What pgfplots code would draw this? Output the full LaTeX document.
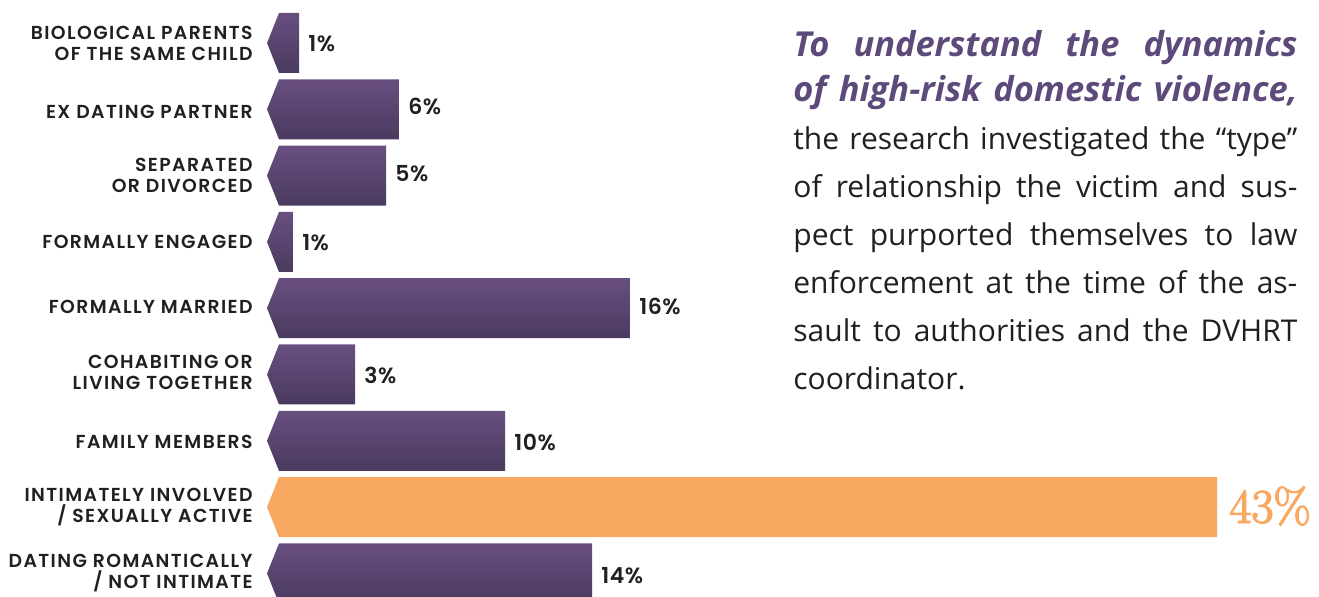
\documentclass[border=0pt]{standalone}
\usepackage{fontspec}
\usepackage{pgfplots}
\pgfplotsset{compat=1.18}
\setmainfont{Open Sans}
\newfontfamily\lab{Poppins}[UprightFont=* SemiBold, BoldFont=* Bold, LetterSpace=7.5]
\newfontfamily\vlab{Poppins}[UprightFont=* SemiBold, LetterSpace=2]
\newfontfamily\bignum{Latin Modern Roman}[FakeBold=3]
\definecolor{barTop}{HTML}{684F80}
\definecolor{barBot}{HTML}{4A3A5E}
\definecolor{org}{HTML}{F9A862}
\definecolor{head}{HTML}{5E4A7A}
\definecolor{txt}{HTML}{231F20}
\tikzset{
  cat/.style={anchor=east, inner sep=0pt, align=right, font=\lab\fontsize{9.4pt}{10.5pt}\selectfont, text=txt, xshift=-7pt},
  val/.style={anchor=west, inner sep=0pt, font=\vlab\fontsize{11pt}{12pt}\selectfont, text=txt, xshift=4.5pt}
}
\pgfplotsset{pbar/.style={draw=none, top color=barTop, bottom color=barBot, forget plot}}
\begin{document}
\begin{tikzpicture}
\useasboundingbox (0,0) rectangle (659.5pt,298.5pt);
\begin{axis}[at={(0,0)}, anchor=south west, scale only axis,
  width=659.5pt, height=298.5pt,
  xmin=-12.798, xmax=47.706, ymin=0, ymax=597, y dir=reverse,
  hide axis, clip=false]
% bars: (0,top) (len,top) (len,bottom) (0,bottom) (tip,center)
\addplot[pbar] coordinates {(0,13.0) (0.92,13.0) (0.92,73.0) (0,73.0) (-0.55,43.0)} -- cycle;
\addplot[pbar] coordinates {(0,79.3) (5.50,79.3) (5.50,139.3) (0,139.3) (-0.55,109.3)} -- cycle;
\addplot[pbar] coordinates {(0,145.6) (4.91,145.6) (4.91,205.6) (0,205.6) (-0.55,175.6)} -- cycle;
\addplot[pbar] coordinates {(0,211.9) (0.64,211.9) (0.64,271.9) (0,271.9) (-0.55,241.9)} -- cycle;
\addplot[pbar] coordinates {(0,278.2) (16.10,278.2) (16.10,338.2) (0,338.2) (-0.55,308.2)} -- cycle;
\addplot[pbar] coordinates {(0,344.5) (3.49,344.5) (3.49,404.5) (0,404.5) (-0.55,374.5)} -- cycle;
\addplot[pbar] coordinates {(0,410.8) (10.37,410.8) (10.37,470.8) (0,470.8) (-0.55,440.8)} -- cycle;
\addplot[draw=none, fill=org, forget plot] coordinates {(0,477.1) (43.03,477.1) (43.03,537.1) (0,537.1) (-0.55,507.1)} -- cycle;
\addplot[pbar] coordinates {(0,543.4) (14.36,543.4) (14.36,603.4) (0,603.4) (-0.55,573.4)} -- cycle;
% category labels
\node[cat] at (axis cs:-0.55,43.0) {BIOLOGICAL PARENTS\\OF THE SAME CHILD};
\node[cat] at (axis cs:-0.55,111.5) {EX DATING PARTNER};
\node[cat] at (axis cs:-0.55,175.6) {SEPARATED\\OR DIVORCED};
\node[cat] at (axis cs:-0.55,241.9) {FORMALLY ENGAGED};
\node[cat] at (axis cs:-0.55,306.5) {FORMALLY MARRIED};
\node[cat] at (axis cs:-0.55,372.5) {COHABITING OR\\LIVING TOGETHER};
\node[cat] at (axis cs:-0.55,441.5) {FAMILY MEMBERS};
\node[cat] at (axis cs:-0.55,507.1) {INTIMATELY INVOLVED\\/ SEXUALLY ACTIVE};
\node[cat] at (axis cs:-0.55,573.4) {DATING ROMANTICALLY\\/ NOT INTIMATE};
% value labels
\node[val] at (axis cs:0.92,43.8) {1\%};
\node[val] at (axis cs:5.50,106.5) {6\%};
\node[val] at (axis cs:4.91,173.5) {5\%};
\node[val] at (axis cs:0.64,242.4) {1\%};
\node[val] at (axis cs:16.10,306.5) {16\%};
\node[val] at (axis cs:3.49,375.0) {3\%};
\node[val] at (axis cs:10.37,442.0) {10\%};
\node[anchor=west, inner sep=0pt, font=\bignum\fontsize{24pt}{28pt}\selectfont, text=org, xshift=6pt] at (axis cs:43.03,506.0) {43\%};
\node[val] at (axis cs:14.36,575.5) {14\%};
\end{axis}
\node[anchor=base west, inner sep=0pt, text width=252pt, align=justify, text=head,
  font=\bfseries\itshape\fontsize{17.2pt}{22.5pt}\selectfont] at (396.5pt,270pt)
  {\parfillskip=0pt To understand the dynamics\linebreak of high-risk domestic violence,\par};
\node[anchor=base west, inner sep=0pt, text width=252pt, align=justify, text=txt,
  font=\fontsize{15pt}{24pt}\selectfont] at (396.5pt,223.5pt)
  {the research investigated the “type”\linebreak of relationship the victim and sus-\linebreak pect purported themselves to law\linebreak enforcement at the time of the as-\linebreak sault to authorities and the DVHRT\linebreak coordinator.\par};
\end{tikzpicture}
\end{document}
